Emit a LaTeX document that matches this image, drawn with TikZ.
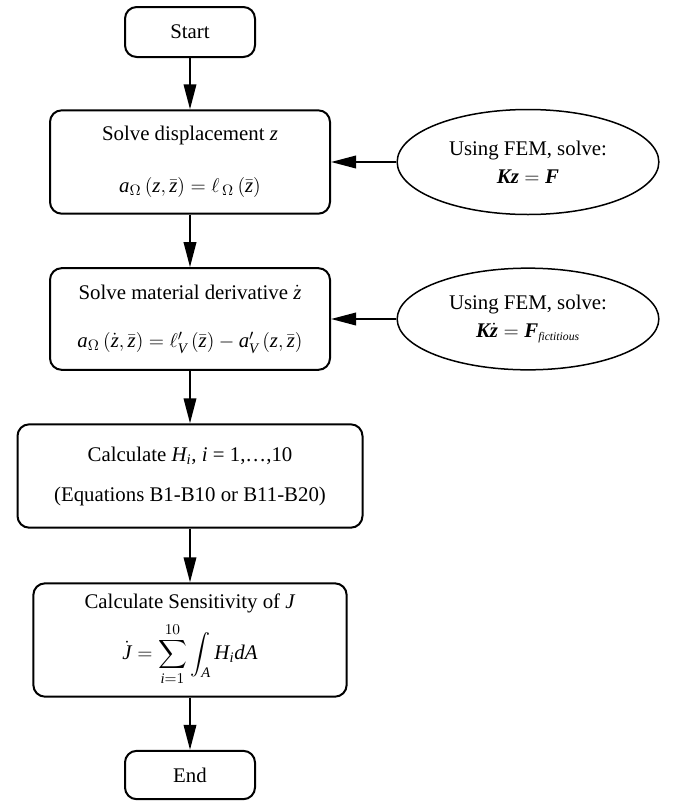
\documentclass[tikz,border=0pt]{standalone}
\usepackage{amsmath}
\usepackage{fontspec}
\setmainfont{Liberation Serif}
\usetikzlibrary{arrows.meta,shapes.geometric}

\newcommand{\vi}[1]{\textit{#1}}
\newcommand{\vb}[1]{\textit{\textbf{#1}}}

\tikzset{
  stepbox/.style={draw,line width=1.2pt,rounded corners=7pt,align=center,
    inner sep=0pt,font=\fontsize{12.5}{15}\selectfont},
  fembox/.style={draw,ellipse,line width=0.9pt,align=center,inner sep=0pt,
    minimum width=157pt,minimum height=63pt,font=\fontsize{12.5}{15}\selectfont},
  flow/.style={line width=1.2pt,-{Triangle[length=15pt,width=7.5pt]}}
}

\begin{document}
\begin{tikzpicture}[x=0.6pt,y=-0.6pt]
  \useasboundingbox (0,0) rectangle (683,801);
  \node[stepbox,minimum width=78pt,minimum height=30pt] (start) at (190,32) {Start};
  \node[stepbox,minimum width=168pt,minimum height=62pt] (disp) at (190,162)
    {Solve displacement \vi{z}\\[16pt]
     $\vi{a}_\Omega\left(\vi{z},\bar{\vi{z}}\right)=\ell_{\,\Omega}\left(\bar{\vi{z}}\right)$};
  \node[stepbox,minimum width=168pt,minimum height=61pt] (deriv) at (190,319)
    {Solve material derivative $\dot{\vi{z}}$\\[14pt]
     $\vi{a}_\Omega\left(\dot{\vi{z}},\bar{\vi{z}}\right)=\ell'_{\vi{V}}\left(\bar{\vi{z}}\right)-\vi{a}'_{\vi{V}}\left(\vi{z},\bar{\vi{z}}\right)$};
  \node[stepbox,minimum width=207pt,minimum height=62pt] (calc) at (190,476)
    {Calculate \vi{H\textsubscript{i}}, \vi{i} = 1,\ldots,10\\[9pt]
     (Equations B1-B10 or B11-B20)};
  \node[stepbox,minimum width=188pt,minimum height=68pt] (sens) at (190,640)
    {Calculate Sensitivity of \vi{J}\\[5pt]
     $\displaystyle \dot{\vi{J}}=\sum_{\vi{i}=1}^{10}\int_{\vi{A}} \vi{H}_{\vi{i}}\vi{dA}$};
  \node[stepbox,minimum width=78pt,minimum height=29pt] (end) at (190,775) {End};

  \node[fembox] (fem1) at (528,162)
    {Using FEM, solve:\\[2pt] $\vb{Kz}=\vb{F}$};
  \node[fembox,minimum height=61pt] (fem2) at (528,319)
    {Using FEM, solve:\\[2pt] $\vb{K}\dot{\vb{z}}=\vb{F}_{\vi{\scriptsize fictitious}}$};

  \draw[flow] (start) -- (disp);
  \draw[flow] (disp) -- (deriv);
  \draw[flow] (deriv) -- (calc);
  \draw[flow] (calc) -- (sens);
  \draw[flow] (sens) -- (end);
  \draw[flow] (fem1) -- (disp);
  \draw[flow] (fem2) -- (deriv);
\end{tikzpicture}
\end{document}
